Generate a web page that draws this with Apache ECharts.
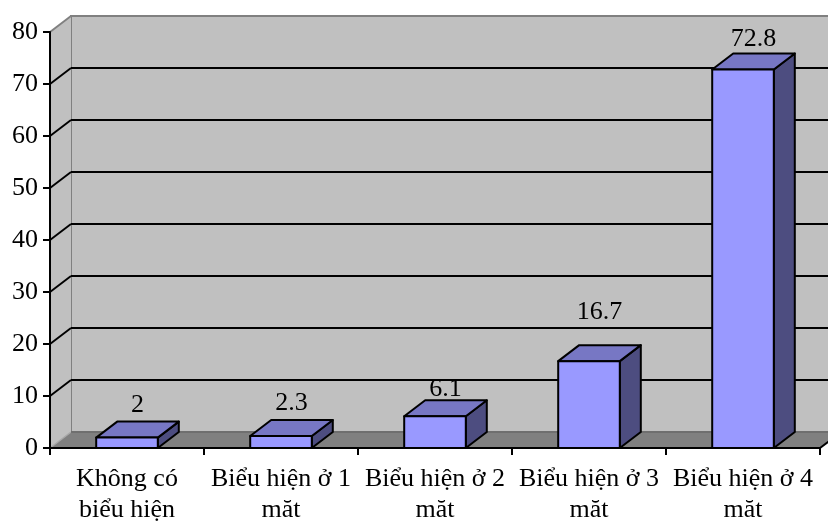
<!DOCTYPE html>
<html>
<head>
<meta charset="utf-8">
<script src="https://cdn.jsdelivr.net/npm/echarts@6/dist/echarts.min.js"></script>
<style>
  html, body { margin: 0; padding: 0; background: #ffffff; }
  #chart { width: 828px; height: 523px; }
</style>
</head>
<body>
<div id="chart"></div>
<script>
// Share of cases by number of affected sides (%)
const categories = [
  'Không có\nbiểu hiện',
  'Biểu hiện ở 1\nmăt',
  'Biểu hiện ở 2\nmăt',
  'Biểu hiện ở 3\nmăt',
  'Biểu hiện ở 4\nmăt'
];
const percentValues = [2, 2.3, 6.1, 16.7, 72.8];
const yTickValues = [0, 10, 20, 30, 40, 50, 60, 70, 80];

// 3D look: depth offset of the walls and columns
const DX = 21;
const DY = 16;
// gap (px) between the back top edge of each column and its value label
const labelGap = [16, 17, 11, 33, 14];
const FONT = '"Liberation Serif", "Times New Roman", serif';
const FRONT = '#9999FF';
const TOP = '#7777C4';
const SIDE = '#4D4D80';

const yMin = yTickValues[0];
const yMax = yTickValues[yTickValues.length - 1];
const yStep = yTickValues[1] - yTickValues[0];

// side wall, floor and the slanted tick lines joining front axis to back wall
function renderFrame(params, api) {
  const cs = params.coordSys;
  const x0 = cs.x, x1 = cs.x + cs.width;
  const yt = cs.y, yb = cs.y + cs.height;
  const children = [];
  children.push({
    type: 'polygon',
    shape: { points: [[x0, yt], [x0 + DX, yt - DY], [x0 + DX, yb - DY], [x0, yb]] },
    style: { fill: '#C0C0C0' }
  });
  children.push({
    type: 'line',
    shape: { x1: x0, y1: yt, x2: x0 + DX, y2: yt - DY },
    style: { stroke: '#808080', lineWidth: 2 }
  });
  children.push({
    type: 'polygon',
    shape: { points: [[x0, yb], [x0 + DX, yb - DY], [x1 + DX, yb - DY], [x1, yb]] },
    style: { fill: '#808080' }
  });
  children.push({
    type: 'line',
    shape: { x1: x0, y1: yb, x2: x0 + DX, y2: yb - DY },
    style: { stroke: '#a8a8a8', lineWidth: 1.5 }
  });
  children.push({
    type: 'line',
    shape: { x1: x0 + DX, y1: yb - DY, x2: x1 + DX, y2: yb - DY },
    style: { stroke: '#6a6a6a', lineWidth: 1.5 }
  });
  children.push({
    type: 'line',
    shape: { x1: x1, y1: yb, x2: x1 + DX, y2: yb - DY },
    style: { stroke: '#000', lineWidth: 2 }
  });
  yTickValues.forEach(function (v) {
    if (v === yMin || v === yMax) return;
    const p = api.coord([0, v]);
    children.push({
      type: 'line',
      shape: { x1: x0, y1: p[1], x2: x0 + DX, y2: p[1] - DY },
      style: { stroke: '#000', lineWidth: 2 }
    });
  });
  return { type: 'group', children: children };
}

// one 3D column: front face, top face, right side face and its value label
function renderColumn(params, api) {
  const idx = api.value(0);
  const val = api.value(1);
  const base = api.coord([idx, 0]);
  const top = api.coord([idx, val]);
  const hw = api.size([1, 0])[0] * 0.2;
  const l = base[0] - hw, r = base[0] + hw;
  const yb = base[1], yt = top[1];
  const edge = { stroke: '#000', lineWidth: 2, lineJoin: 'round' };
  return {
    type: 'group',
    children: [
      {
        type: 'text',
        style: {
          text: String(val), x: base[0] + DX / 2, y: yt - DY - labelGap[idx],
          align: 'center', verticalAlign: 'middle',
          font: '26px ' + FONT, fill: '#000'
        }
      },
      {
        type: 'polygon',
        shape: { points: [[r, yt], [r + DX, yt - DY], [r + DX, yb - DY], [r, yb]] },
        style: Object.assign({ fill: SIDE }, edge)
      },
      {
        type: 'polygon',
        shape: { points: [[l, yt], [l + DX, yt - DY], [r + DX, yt - DY], [r, yt]] },
        style: Object.assign({ fill: TOP }, edge)
      },
      {
        type: 'rect',
        shape: { x: l, y: yt, width: r - l, height: yb - yt },
        style: Object.assign({ fill: FRONT }, edge)
      }
    ]
  };
}

const chart = echarts.init(document.getElementById('chart'), null, { renderer: 'canvas' });
chart.setOption({
  animation: false,
  backgroundColor: '#ffffff',
  grid: [
    { left: 50, top: 32, width: 770, height: 416, show: false,
      containLabel: false, outerBoundsMode: 'none' },
    { left: 71, top: 16, width: 770, height: 416, show: true,
      containLabel: false, outerBoundsMode: 'none',
      backgroundColor: '#C0C0C0', borderColor: '#808080', borderWidth: 2 }
  ],
  xAxis: [
    {
      type: 'category', gridIndex: 0, data: categories, z: 10,
      axisLine: { show: true, lineStyle: { color: '#000', width: 2 } },
      axisTick: { show: true, length: 7, lineStyle: { color: '#000', width: 2 } },
      axisLabel: {
        interval: 0, margin: 16, color: '#000',
        fontFamily: FONT, fontSize: 26, lineHeight: 31
      },
      splitLine: { show: false }
    },
    { type: 'category', gridIndex: 1, data: categories, show: false }
  ],
  yAxis: [
    {
      type: 'value', gridIndex: 0, min: yMin, max: yMax, interval: yStep, z: 10,
      axisLine: { show: true, lineStyle: { color: '#000', width: 2 } },
      axisTick: { show: true, length: 7, lineStyle: { color: '#000', width: 2 } },
      axisLabel: { margin: 12, color: '#000', fontFamily: FONT, fontSize: 26 },
      splitLine: { show: false }
    },
    {
      type: 'value', gridIndex: 1, min: yMin, max: yMax, interval: yStep,
      axisLine: { show: false }, axisTick: { show: false }, axisLabel: { show: false },
      splitLine: { show: true, showMinLine: false, showMaxLine: false,
        lineStyle: { color: '#000', width: 2 } }
    }
  ],
  series: [
    {
      type: 'custom', name: 'frame', xAxisIndex: 0, yAxisIndex: 0, z: 1,
      renderItem: renderFrame, data: [[0, 0]], silent: true
    },
    {
      type: 'custom', name: 'Tỷ lệ (%)', xAxisIndex: 0, yAxisIndex: 0, z: 5,
      renderItem: renderColumn,
      encode: { x: 0, y: 1 },
      data: percentValues.map(function (v, i) { return [i, v]; })
    }
  ]
});
</script>
</body>
</html>
